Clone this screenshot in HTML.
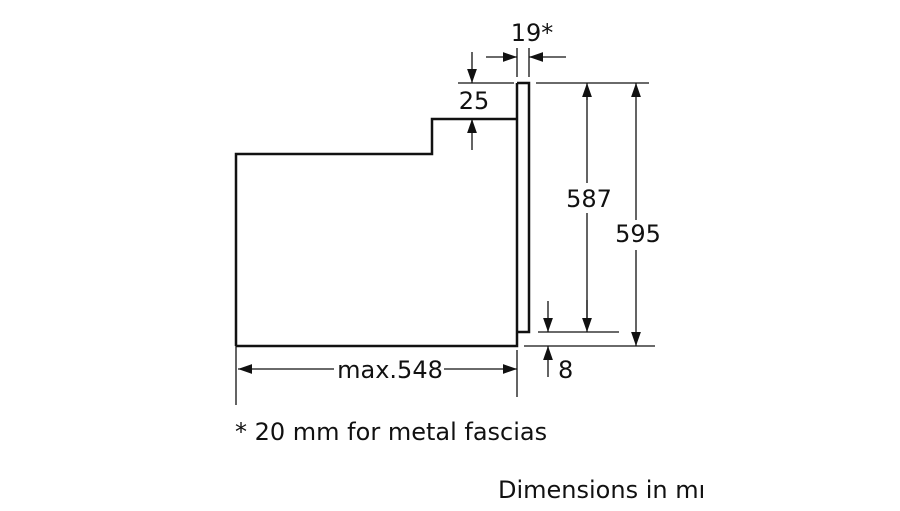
<!DOCTYPE html>
<html><head><style>
body{margin:0;background:#fff;width:900px;height:506px;overflow:hidden}
svg text{font-family:"DejaVu Sans","Liberation Sans",sans-serif;font-size:24px;fill:#111}
</style></head><body>
<svg width="900" height="506" viewBox="0 0 900 506">
<defs><marker id="a" viewBox="0 0 10 10" refX="10" refY="5" markerWidth="14" markerHeight="14" markerUnits="userSpaceOnUse" orient="auto"><path d="M0,1.5 L10,5 L0,8.5 Z" fill="#111"/></marker></defs>
<g stroke="#111" fill="none">
<path d="M236,346 V154 H432 V119 H517 M517,83 V346 H236 M517,83 H529 V332 H517" stroke-width="2.5"/>
<g stroke-width="1.3">
<path d="M458,83 H514 M536,83 H649 M524,346 H655 M538,332 H619"/>
<path d="M517,48 V77 M529,48 V77"/>
<path d="M236,346 V405 M517,350 V397"/>
<path d="M587,100 V83" marker-end="url(#a)"/>
<path d="M587,300 V332" marker-end="url(#a)"/>
<path d="M587,90 V320"/>
<path d="M636,100 V83" marker-end="url(#a)"/>
<path d="M636,100 V346" marker-end="url(#a)"/>
<path d="M472,52 V83" marker-end="url(#a)"/>
<path d="M472,150 V119" marker-end="url(#a)"/>
<path d="M486,57 H517" marker-end="url(#a)"/>
<path d="M566,57 H529" marker-end="url(#a)"/>
<path d="M548,301 V332" marker-end="url(#a)"/>
<path d="M548,377 V346" marker-end="url(#a)"/>
<path d="M300,369 H238" marker-end="url(#a)"/>
<path d="M300,369 H517" marker-end="url(#a)"/>
</g></g>
<rect x="580" y="183" width="14" height="30" fill="#fff"/>
<rect x="614" y="220" width="46" height="30" fill="#fff"/>
<rect x="334" y="356" width="110" height="26" fill="#fff"/>
<text x="532" y="41" text-anchor="middle">19*</text>
<text x="474" y="109" text-anchor="middle">25</text>
<text x="589" y="207" text-anchor="middle">587</text>
<text x="638" y="242" text-anchor="middle">595</text>
<text x="558" y="378">8</text>
<text x="390" y="378" text-anchor="middle">max.548</text>
<text x="235" y="440">* 20 mm for metal fascias</text>
<svg x="0" y="0" width="703" height="506"><text x="498" y="498">Dimensions in mm</text></svg>
</svg>
</body></html>
